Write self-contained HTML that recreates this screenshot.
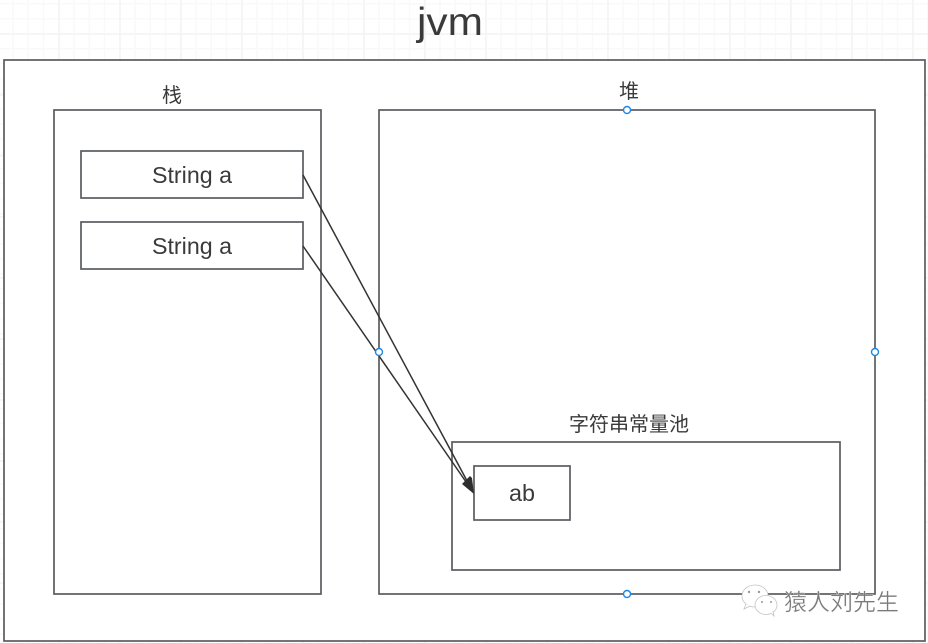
<!DOCTYPE html>
<html><head><meta charset="utf-8"><style>
html,body{margin:0;padding:0;background:#fff;width:928px;height:643px;overflow:hidden}
svg{display:block}
text{font-family:"Liberation Sans","Noto Sans CJK SC",sans-serif;fill:#3a3a3a}
</style></head><body>
<svg width="928" height="643" viewBox="0 0 928 643" xmlns="http://www.w3.org/2000/svg">
<defs>
<pattern id="mi" x="-3" y="3" width="15.25" height="15" patternUnits="userSpaceOnUse">
<path d="M0.75 0V15M0 0.75H15.25" stroke="#f9f9f9" stroke-width="1.5" fill="none"/>
</pattern>
<pattern id="ma" x="-3" y="33" width="61" height="61" patternUnits="userSpaceOnUse">
<path d="M1 0V61M0 1H61" stroke="#f4f4f4" stroke-width="1.6" fill="none"/>
</pattern>
</defs>
<rect width="928" height="643" fill="#fff"/>
<rect width="928" height="643" fill="url(#mi)"/>
<rect width="928" height="643" fill="url(#ma)"/>
<g fill="#fff" stroke="#595c60" stroke-width="1.7">
<rect x="4" y="60" width="921" height="581"/>
<rect x="54" y="110" width="267" height="484"/>
<rect x="379" y="110" width="496" height="484"/>
<rect x="81" y="151" width="222" height="47"/>
<rect x="81" y="222" width="222" height="47"/>
<rect x="452" y="442" width="388" height="128"/>
<rect x="474" y="466" width="96" height="54"/>
</g>
<g stroke="#333" stroke-width="1.5" fill="none">
<line x1="303" y1="175" x2="473" y2="492"/>
<line x1="303" y1="246" x2="473" y2="492"/>
</g>
<polygon points="474,494 462,484 470,476 472,478" fill="#2e2e2e"/>
<g fill="#fff" stroke="#1e88e5" stroke-width="1.4">
<circle cx="627" cy="110" r="3.5"/>
<circle cx="379" cy="352" r="3.5"/>
<circle cx="875" cy="352" r="3.5"/>
<circle cx="627" cy="594" r="3.5"/>
</g>
<text x="450" y="35" font-size="39" text-anchor="middle" textLength="66" lengthAdjust="spacingAndGlyphs">jvm</text>
<text x="172" y="102" font-size="20" text-anchor="middle">栈</text>
<text x="629" y="98" font-size="20" text-anchor="middle">堆</text>
<text x="152" y="183" font-size="23" textLength="80" lengthAdjust="spacingAndGlyphs">String a</text>
<text x="152" y="254" font-size="23" textLength="80" lengthAdjust="spacingAndGlyphs">String a</text>
<text x="569" y="431" font-size="20" textLength="120">字符串常量池</text>
<text x="509" y="501" font-size="23" textLength="26" lengthAdjust="spacingAndGlyphs">ab</text>
<g fill="#fff" stroke="#c4c4c4" stroke-width="0.8">
<ellipse cx="755" cy="596" rx="13" ry="11"/>
<path d="M746 604l-2 5 6-3"/>
<ellipse cx="766" cy="605" rx="11" ry="9.5"/>
<path d="M771 613l3 3-1-5"/>
</g>
<g fill="#999"><circle cx="749" cy="592" r="1.2"/><circle cx="759" cy="592" r="1.2"/><circle cx="762" cy="602" r="1"/><circle cx="771" cy="602" r="1"/></g>
<text x="784" y="610" font-size="23" textLength="115" style="fill:#7a7a7a;stroke:#fff;stroke-width:.3">猿人刘先生</text>
</svg>
</body></html>
